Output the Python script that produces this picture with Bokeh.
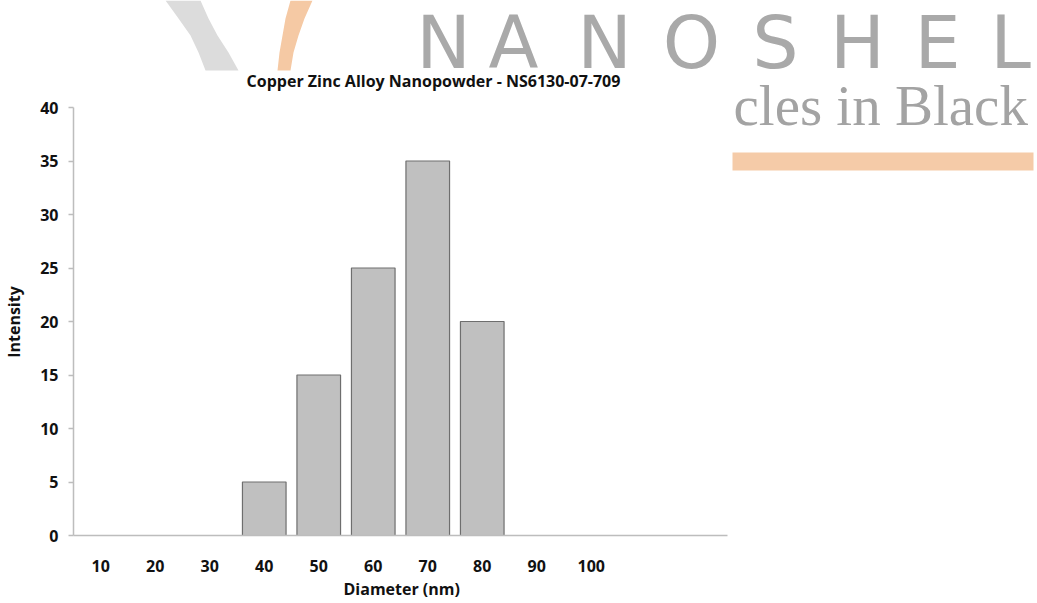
from bokeh.plotting import figure
from bokeh.models import Range1d, FixedTicker, Label, BoxAnnotation, PolyAnnotation
from bokeh.embed import file_html
from bokeh.resources import INLINE

# ---------------- data ----------------
diameters = [10, 20, 30, 40, 50, 60, 70, 80, 90, 100]
intensity = [0, 0, 0, 5, 15, 25, 35, 20, 0, 0]
y_ticks = [0, 5, 10, 15, 20, 25, 30, 35, 40]
x_tick_labels = ["10", "20", "30", "40", "50", "60", "70", "80", "90", "100"]
title_text = "Copper Zinc Alloy Nanopowder - NS6130-07-709"
x_title = "Diameter (nm)"
y_title = "Intensity"
logo_letters = ["N", "A", "N", "O", "S", "H", "E", "L"]
tagline = "cles in Black"

# ---------------- layout ----------------
W, H = 1037, 603
LEFT, BOTTOM = 73, 68            # side panels holding the axes
SLOT_PX = 54.5                   # pixels per 10 nm category
PX_PER_UNIT = 10.7               # pixels per intensity unit
X0 = 5
x_end = X0 + (W - LEFT) / SLOT_PX * 10
y_end = (H - BOTTOM) / PX_PER_UNIT
FONT = "Open Sans"
FS = 16
TXT = "#111111"
AX = "#bdbdbd"
NBSP_W = 0.26 * FS               # width of a no-break space in Open Sans


def pad(text, shift_px):
    """Shift a centred axis title by padding its end with no-break spaces."""
    return text + "\u00a0" * int(round(2 * shift_px / NBSP_W))


p = figure(width=W, height=H, x_range=Range1d(X0, x_end), y_range=Range1d(0, y_end),
           output_backend="svg", toolbar_location=None,
           min_border_left=LEFT, min_border_right=0, min_border_top=0, min_border_bottom=BOTTOM,
           background_fill_color="white", border_fill_color="white")
p.outline_line_color = None
p.grid.visible = False

bx = [d for d, v in zip(diameters, intensity) if v > 0]
bt = [v for v in intensity if v > 0]
p.vbar(x=bx, top=bt, bottom=0, width=8, fill_color="#c0c0c0",
       line_color="#6e6e6e", line_width=1.2)

# chart centre on screen vs frame centre (for the axis titles)
chart_cx = LEFT + 6 * SLOT_PX + 1.5
frame_cx = (LEFT + W) / 2
chart_cy = (H - BOTTOM) - 20 * PX_PER_UNIT
frame_cy = (H - BOTTOM) / 2

xa = p.xaxis[0]
xa.bounds = (X0, X0 + 120)
xa.ticker = FixedTicker(ticks=diameters)
xa.major_label_overrides = {d: t for d, t in zip(diameters, x_tick_labels)}
xa.major_tick_out = 0
xa.major_tick_in = 0
xa.minor_tick_out = 0
xa.minor_tick_in = 0
xa.major_label_standoff = 24
xa.axis_line_color = AX
xa.axis_line_width = 1.5
xa.major_label_text_font = FONT
xa.major_label_text_font_style = "bold"
xa.major_label_text_font_size = f"{FS}px"
xa.major_label_text_color = TXT
xa.axis_label = pad(x_title, frame_cx - chart_cx)
xa.axis_label_standoff = 3
xa.axis_label_text_font = FONT
xa.axis_label_text_font_style = "bold"
xa.axis_label_text_font_size = f"{FS}px"
xa.axis_label_text_color = TXT

ya = p.yaxis[0]
ya.bounds = (0, 40)
ya.ticker = FixedTicker(ticks=y_ticks)
ya.major_tick_out = 5
ya.major_tick_in = 0
ya.minor_tick_out = 0
ya.minor_tick_in = 0
ya.major_tick_line_color = AX
ya.major_tick_line_width = 1.5
ya.axis_line_color = AX
ya.axis_line_width = 1.5
ya.major_label_standoff = 10
ya.major_label_text_font = FONT
ya.major_label_text_font_style = "bold"
ya.major_label_text_font_size = f"{FS}px"
ya.major_label_text_color = TXT
ya.axis_label = pad(y_title, chart_cy - frame_cy)
ya.axis_label_standoff = 12
ya.axis_label_text_font = FONT
ya.axis_label_text_font_style = "bold"
ya.axis_label_text_font_size = f"{FS}px"
ya.axis_label_text_color = TXT

U = "canvas"

# ---- watermark logo (decoration) ----
gray_l = [(165, 0), (178, 18), (190, 35), (198, 52), (205, 70)]
gray_r = [(238, 70), (228, 52), (217, 35), (208, 18), (200, 0)]
org_l = [(290, 0), (285, 18), (282, 35), (279, 52), (277, 70)]
org_r = [(290, 70), (293, 52), (298, 35), (304, 18), (312, 0)]
for pts, col in [(gray_l + gray_r, "#dcdcdc"), (org_l + org_r, "#f5c9a4")]:
    p.add_layout(PolyAnnotation(xs=[a for a, b in pts], ys=[b for a, b in pts],
                                xs_units=U, ys_units=U, fill_color=col,
                                fill_alpha=1.0, line_color=None, level="underlay"))

letter_centers = [443, 513, 604, 691, 775, 857, 937, 1010]
for ch, c in zip(logo_letters, letter_centers):
    p.add_layout(Label(x=c, y=42, x_units=U, y_units=U, text=ch,
                       text_align="center", text_baseline="alphabetic",
                       text_font="DejaVu Sans", text_font_size="73px", text_color="#a9a9a9",
                       level="underlay"))

p.add_layout(Label(x=733, y=105, x_units=U, y_units=U, text=tagline,
                   text_align="left", text_baseline="alphabetic",
                   text_font="Liberation Serif", text_font_size="57px", text_color="#a3a3a3",
                   level="underlay"))

p.add_layout(BoxAnnotation(left=732, right=1033, top=152, bottom=170,
                           left_units=U, right_units=U, top_units=U, bottom_units=U,
                           fill_color="#f5cba8", fill_alpha=1.0, line_color=None,
                           level="underlay"))

# ---- chart title ----
p.add_layout(Label(x=433, y=80, x_units=U, y_units=U, text=title_text,
                   text_align="center", text_baseline="middle",
                   text_font=FONT, text_font_style="bold", text_font_size=f"{FS}px",
                   text_color=TXT))

open("out.html", "w").write(file_html(p, INLINE))
